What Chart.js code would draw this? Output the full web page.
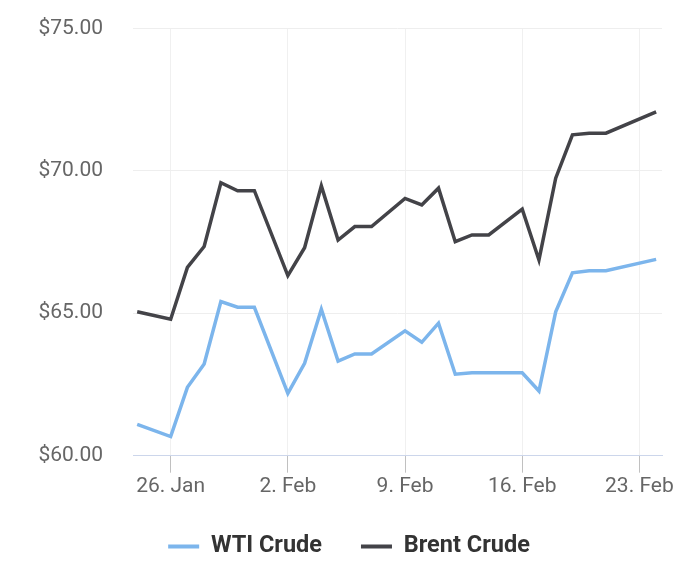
<!DOCTYPE html>
<html>
<head>
<meta charset="utf-8">
<script src="https://cdn.jsdelivr.net/npm/chart.js@4.4.1/dist/chart.umd.min.js"></script>
<style>
  html, body { margin: 0; padding: 0; background: #ffffff; }
  #wrap { width: 700px; height: 581px; position: relative; }
</style>
</head>
<body>
<div id="wrap"><canvas id="c" width="700" height="581"></canvas></div>
<script>
// Day numbers counted from 1 Jan (32 = 1 Feb)
const days = [24, 26, 27, 28, 29, 30, 31, 33, 34, 35, 36, 37, 38, 40, 41, 42, 43, 44, 45, 47, 48, 49, 50, 51, 52, 55];
const wtiCrude = [61.10, 60.67, 62.40, 63.22, 65.41, 65.21, 65.21, 62.19, 63.24, 65.14, 63.32, 63.57, 63.57, 64.38, 63.98, 64.65, 62.86, 62.91, 62.91, 62.91, 62.27, 65.05, 66.42, 66.49, 66.49, 66.89];
const brentCrude = [65.05, 64.79, 66.61, 67.34, 69.58, 69.30, 69.30, 66.32, 67.30, 69.47, 67.57, 68.04, 68.04, 69.03, 68.80, 69.39, 67.51, 67.75, 67.75, 68.65, 66.87, 69.74, 71.26, 71.32, 71.32, 72.07];
const xTickDays = [26, 33, 40, 47, 54];
const yTicks = [60, 65, 70, 75];

function dayLabel(d) {
  return d <= 31 ? d + '. Jan' : (d - 31) + '. Feb';
}
function toPoints(vals) {
  return days.map((d, i) => ({ x: d, y: vals[i] }));
}

const FONT = 'Roboto, "Noto Sans", sans-serif';
const PAD_LEFT = 36;

new Chart(document.getElementById('c'), {
  type: 'line',
  data: {
    datasets: [
      { label: 'WTI Crude', data: toPoints(wtiCrude), borderColor: '#7cb5ec', backgroundColor: '#7cb5ec',
        borderWidth: 3.5, pointRadius: 0, tension: 0, borderJoinStyle: 'miter', fill: false },
      { label: 'Brent Crude', data: toPoints(brentCrude), borderColor: '#434348', backgroundColor: '#434348',
        borderWidth: 3.5, pointRadius: 0, tension: 0, borderJoinStyle: 'miter', fill: false }
    ]
  },
  options: {
    responsive: false,
    animation: false,
    events: [],
    layout: { padding: { top: 28.3, right: 38, left: PAD_LEFT, bottom: 12.75 } },
    plugins: {
      tooltip: { enabled: false },
      legend: {
        position: 'bottom',
        labels: {
          boxWidth: 31,
          boxHeight: 4,
          padding: 39,
          color: '#333333',
          font: { family: FONT, size: 23.5, weight: 'bold' },
          generateLabels: (chart) => Chart.defaults.plugins.legend.labels.generateLabels(chart)
            .map(it => Object.assign(it, { lineWidth: 0 }))
        }
      }
    },
    scales: {
      x: {
        type: 'linear',
        min: 23.75,
        max: 55.35,
        afterBuildTicks: (axis) => { axis.ticks = xTickDays.map(v => ({ value: v })); },
        afterFit: (axis) => { axis.height = 40.05; },
        ticks: {
          callback: (v) => dayLabel(v),
          color: '#666666',
          font: { family: FONT, size: 21 },
          padding: 1,
          maxRotation: 0,
          autoSkip: false
        },
        grid: {
          color: '#f0f0f0',
          lineWidth: 1,
          tickLength: 17,
          tickColor: '#c0c0c0',
          drawTicks: true
        },
        border: { display: true, color: '#ccd6eb', width: 1 }
      },
      y: {
        min: 60,
        max: 75,
        afterBuildTicks: (axis) => { axis.ticks = yTicks.map(v => ({ value: v })); },
        afterFit: (axis) => { axis.width = 133 - PAD_LEFT; },
        ticks: {
          callback: (v) => '$' + v.toFixed(2),
          color: '#666666',
          font: { family: FONT, size: 21 },
          padding: 0
        },
        grid: { color: '#eeeeee', lineWidth: 1, drawTicks: true, tickLength: 30, tickColor: 'rgba(0,0,0,0)' },
        border: { display: false }
      }
    }
  }
});
</script>
</body>
</html>
